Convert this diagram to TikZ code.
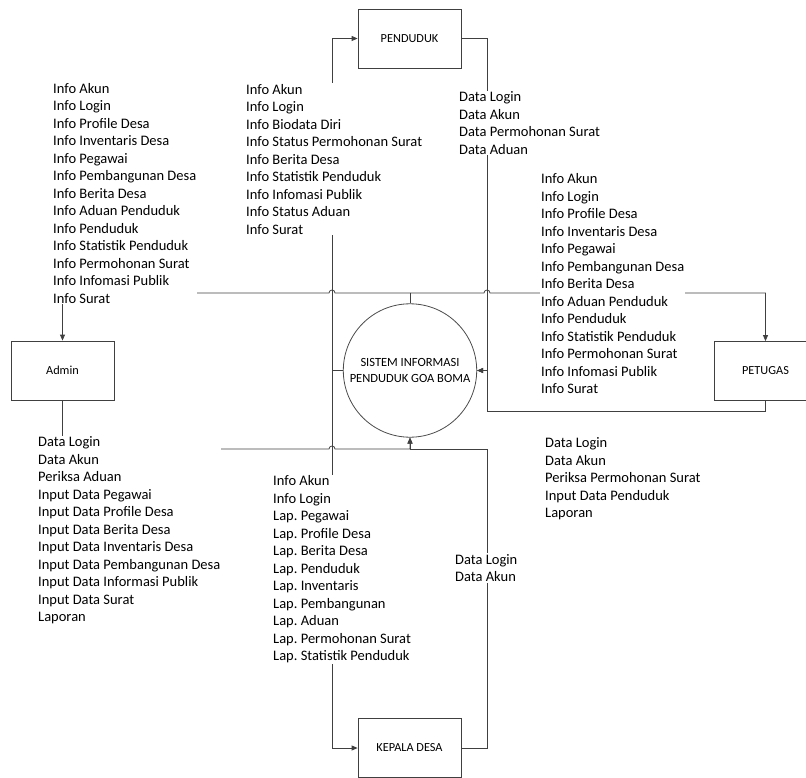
\documentclass[tikz,border=0pt]{standalone}
\usepackage{fontspec}
\setmainfont{Carlito}
\usetikzlibrary{arrows.meta}
\frenchspacing

\begin{document}
\begin{tikzpicture}[x=1pt, y=-1pt,
    every node/.style={font=\fontsize{14.5}{17.5}\selectfont},
    entity/.style={draw=black!75, line width=0.8pt, minimum width=103pt, minimum height=59pt, font=\fontsize{12.3}{15}\selectfont},
    process/.style={draw=black!70, line width=0.8pt, circle, minimum size=133.4pt, align=center, font=\fontsize{12.5}{15.7}\selectfont},
    flowtext/.style={anchor=west, align=left, fill=white, inner sep=1pt},
    wire/.style={draw=black!75, line width=0.8pt},
    flow/.style={wire, -{Triangle[length=6pt, width=5pt]}}]
    \useasboundingbox (0,0) rectangle (806,778);
    \node[process] (sys) at (410,370.5) {SISTEM INFORMASI\\PENDUDUK GOA BOMA};
    \node[entity] (pend) at (409.5,38.5) {PENDUDUK};
    \node[entity] (admin) at (62.5,370.5) {Admin};
    \node[entity] (pet) at (765.5,371) {PETUGAS};
    \node[entity] (kades) at (409.5,748) {KEPALA DESA};
    \coordinate (lbus) at (332,0);
    \coordinate (rbus) at (487,0);
    \coordinate (tbus) at (0,293);
    \coordinate (bbus) at (0,449);
    \coordinate (pbus) at (0,411);

    \draw[wire] (sys.north) -- (sys.north |- tbus);
    \draw[flow] (sys.north |- tbus) -- (335,293) arc[start angle=0, end angle=180, radius=3pt] -| (admin.north);
    \draw[flow] (sys.north |- tbus) -- (484,293) arc[start angle=180, end angle=0, radius=3pt] -| (pet.north);
    \draw[flow] (sys.west) -- (sys.west -| lbus) |- (pend.west);
    \draw[flow] (sys.west -| lbus) |- (kades.west);
    \draw[flow] (pend.east) -| (sys.east -| rbus) -- (sys.east);
    \draw[flow] (pet.south) |- (pbus -| rbus) |- (sys.east);
    \draw[flow] (admin.south) |- (329,449) arc[start angle=180, end angle=0, radius=3pt] -| (sys.south);
    \draw[flow] (kades.east) -| (bbus -| rbus) -| (sys.south);

    \node[flowtext] (toadmin) at (52,193.2) {Info Akun\\Info Login\\Info Profile Desa\\Info Inventaris Desa\\Info Pegawai\\Info Pembangunan Desa\\Info Berita Desa\\Info Aduan Penduduk\\Info Penduduk\\Info Statistik Penduduk\\Info Permohonan Surat\\Info Infomasi Publik\\Info Surat};
    \node[flowtext] (topend) at (245,159.3) {Info Akun\\Info Login\\Info Biodata Diri\\Info Status Permohonan Surat\\Info Berita Desa\\Info Statistik Penduduk\\Info Infomasi Publik\\Info Status Aduan\\Info Surat};
    \node[flowtext] (frompend) at (458,123) {Data Login\\Data Akun\\Data Permohonan Surat\\Data Aduan};
    \node[flowtext] (topet) at (540,283.7) {Info Akun\\Info Login\\Info Profile Desa\\Info Inventaris Desa\\Info Pegawai\\Info Pembangunan Desa\\Info Berita Desa\\Info Aduan Penduduk\\Info Penduduk\\Info Statistik Penduduk\\Info Permohonan Surat\\Info Infomasi Publik\\Info Surat};
    \node[flowtext] (fromadmin) at (37,530.2) {Data Login\\Data Akun\\Periksa Aduan\\Input Data Pegawai\\Input Data Profile Desa\\Input Data Berita Desa\\Input Data Inventaris Desa\\Input Data Pembangunan Desa\\Input Data Informasi Publik\\Input Data Surat\\Laporan};
    \node[flowtext] (tokades) at (272,569.4) {Info Akun\\Info Login\\Lap. Pegawai\\Lap. Profile Desa\\Lap. Berita Desa\\Lap. Penduduk\\Lap. Inventaris\\Lap. Pembangunan\\Lap. Aduan\\Lap. Permohonan Surat\\Lap. Statistik Penduduk};
    \node[flowtext] (frompet) at (544,479) {Data Login\\Data Akun\\Periksa Permohonan Surat\\Input Data Penduduk\\Laporan};
    \node[flowtext] (fromkades) at (454,568) {Data Login\\Data Akun};
\end{tikzpicture}
\end{document}
